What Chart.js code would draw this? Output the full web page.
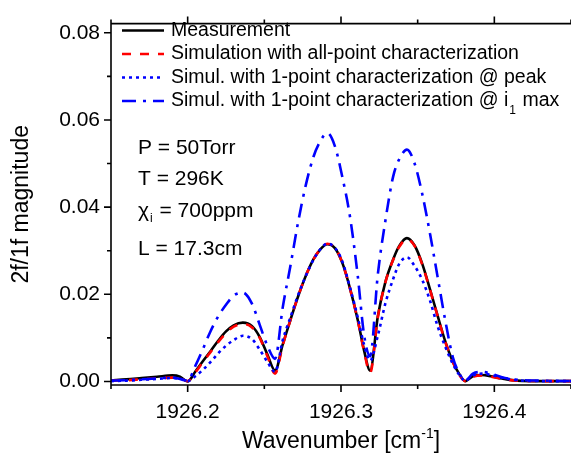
<!DOCTYPE html>
<html>
<head>
<meta charset="utf-8">
<script src="https://cdn.jsdelivr.net/npm/chart.js@4"></script>
<style>
  html, body { margin: 0; padding: 0; background: #fff; }
</style>
</head>
<body>
<canvas id="chart" width="571" height="457"></canvas>
<script>
// wavenumber grid [cm-1]
const wavenumber = [1926.150, 1926.160, 1926.170, 1926.180, 1926.190, 1926.195, 1926.200, 1926.205, 1926.210, 1926.215,
  1926.220, 1926.225, 1926.230, 1926.236, 1926.242, 1926.247, 1926.252, 1926.257, 1926.262, 1926.267,
  1926.272, 1926.277, 1926.282, 1926.286, 1926.291, 1926.296, 1926.301, 1926.306, 1926.311, 1926.315,
  1926.319, 1926.324, 1926.329, 1926.334, 1926.338, 1926.343, 1926.348, 1926.353, 1926.358, 1926.363,
  1926.368, 1926.373, 1926.377, 1926.381, 1926.386, 1926.392, 1926.398, 1926.405, 1926.415, 1926.430, 1926.450];

// 2f/1f magnitude
const measurement = [0.0003, 0.0005, 0.0008, 0.0011, 0.0014, 0.0011, 0.0000, 0.0023, 0.0047, 0.0070,
  0.0094, 0.0115, 0.0129, 0.0135, 0.0127, 0.0102, 0.0062, 0.0025, 0.0085, 0.0141,
  0.0195, 0.0242, 0.0280, 0.0301, 0.0315, 0.0306, 0.0271, 0.0212, 0.0140, 0.0072,
  0.0025, 0.0149, 0.0229, 0.0280, 0.0311, 0.0329, 0.0312, 0.0270, 0.0212, 0.0151,
  0.0092, 0.0045, 0.0018, 0.0001, 0.0012, 0.0015, 0.0012, 0.0007, 0.0002, 0.0001, 0.0001];

const simAllPoint = [0.0002, 0.0003, 0.0005, 0.0007, 0.0009, 0.0007, 0.0001, 0.0021, 0.0045, 0.0068,
  0.0091, 0.0111, 0.0126, 0.0132, 0.0124, 0.0100, 0.0058, 0.0018, 0.0083, 0.0141,
  0.0195, 0.0242, 0.0280, 0.0301, 0.0316, 0.0307, 0.0271, 0.0211, 0.0139, 0.0070,
  0.0020, 0.0147, 0.0228, 0.0279, 0.0309, 0.0327, 0.0311, 0.0268, 0.0211, 0.0150,
  0.0091, 0.0044, 0.0016, 0.0001, 0.0011, 0.0014, 0.0011, 0.0006, 0.0002, 0.0001, 0.0001];

const simPeak = [0.0001, 0.0002, 0.0004, 0.0006, 0.0008, 0.0006, 0.0001, 0.0012, 0.0027, 0.0045,
  0.0065, 0.0082, 0.0095, 0.0105, 0.0097, 0.0073, 0.0045, 0.0022, 0.0095, 0.0147,
  0.0198, 0.0242, 0.0279, 0.0301, 0.0316, 0.0307, 0.0274, 0.0214, 0.0146, 0.0085,
  0.0048, 0.0105, 0.0180, 0.0235, 0.0270, 0.0285, 0.0265, 0.0233, 0.0186, 0.0127,
  0.0080, 0.0040, 0.0016, 0.0002, 0.0014, 0.0018, 0.0015, 0.0009, 0.0003, 0.0001, 0.0001];

const simI1Max = [0.0002, 0.0003, 0.0005, 0.0007, 0.0009, 0.0006, 0.0002, 0.0036, 0.0075, 0.0116,
  0.0150, 0.0176, 0.0197, 0.0204, 0.0178, 0.0130, 0.0082, 0.0052, 0.0170, 0.0265,
  0.0365, 0.0450, 0.0515, 0.0548, 0.0570, 0.0540, 0.0467, 0.0375, 0.0240, 0.0108,
  0.0058, 0.0245, 0.0370, 0.0470, 0.0510, 0.0532, 0.0500, 0.0430, 0.0340, 0.0240,
  0.0140, 0.0055, 0.0020, 0.0002, 0.0018, 0.0022, 0.0018, 0.0010, 0.0004, 0.0002, 0.0001];

const seriesLabels = ['Measurement', 'Simulation with all-point characterization',
  'Simul. with 1-point characterization @ peak', 'Simul. with 1-point characterization @ i'];

const xMajorTicks = [1926.2, 1926.3, 1926.4];
const xMinorTicks = [1926.15, 1926.25, 1926.35, 1926.45];
const yMajorTicks = [0, 0.02, 0.04, 0.06, 0.08];
const yMinorTicks = [0.01, 0.03, 0.05, 0.07];

const conditions = ['P = 50Torr', 'T = 296K', ' = 700ppm', 'L = 17.3cm'];

const FONT = '"Liberation Sans", Arial, sans-serif';
const toPoints = ys => ys.map((y, i) => ({ x: wavenumber[i], y: y }));

const lineBase = { pointRadius: 0, fill: false, borderWidth: 2.6, cubicInterpolationMode: 'monotone', borderCapStyle: 'butt' };

// frame, minor ticks, legend, annotations and axis titles
const decorPlugin = {
  id: 'decor',
  afterDraw(chart) {
    const ctx = chart.ctx;
    const { left, right, top, bottom } = chart.chartArea;
    const xs = chart.scales.x, ys = chart.scales.y;
    ctx.save();
    ctx.strokeStyle = '#000';
    ctx.lineWidth = 1.6;
    ctx.setLineDash([]);
    ctx.beginPath();
    ctx.moveTo(left, bottom); ctx.lineTo(left, top); ctx.lineTo(right, top);
    ctx.moveTo(left, bottom); ctx.lineTo(right, bottom);
    yMajorTicks.forEach(v => { const p = ys.getPixelForValue(v); ctx.moveTo(left - 7, p); ctx.lineTo(left, p); });
    yMinorTicks.forEach(v => { const p = ys.getPixelForValue(v); ctx.moveTo(left - 4, p); ctx.lineTo(left, p); });
    xMajorTicks.forEach(v => {
      const p = xs.getPixelForValue(v);
      ctx.moveTo(p, bottom); ctx.lineTo(p, bottom + 7);
      ctx.moveTo(p, top); ctx.lineTo(p, top - 7);
    });
    xMinorTicks.forEach(v => {
      const p = xs.getPixelForValue(v);
      ctx.moveTo(p, bottom); ctx.lineTo(p, bottom + 4);
      ctx.moveTo(p, top); ctx.lineTo(p, top - 4);
    });
    ctx.stroke();

    // legend
    ctx.fillStyle = '#000';
    ctx.textBaseline = 'middle';
    chart.data.datasets.forEach((ds, i) => {
      const y = 30.5 + i * 23.5;
      ctx.strokeStyle = ds.borderColor;
      ctx.lineWidth = ds.borderWidth;
      ctx.setLineDash(ds.borderDash || []);
      ctx.beginPath(); ctx.moveTo(122, y); ctx.lineTo(164, y); ctx.stroke();
      ctx.font = '19.5px ' + FONT;
      ctx.textAlign = 'left';
      ctx.fillText(seriesLabels[i], 171, y);
      if (i === 3) {
        let x = 171 + ctx.measureText(seriesLabels[i]).width + 1;
        ctx.font = '12px ' + FONT;
        ctx.fillText('1', x, y + 10);
        x += ctx.measureText('1').width + 1;
        ctx.font = '19.5px ' + FONT;
        ctx.fillText(' max', x, y);
      }
    });
    ctx.setLineDash([]);

    // measurement conditions
    ctx.textBaseline = 'alphabetic';
    ctx.font = '21px ' + FONT;
    ctx.fillText(conditions[0], 138, 154);
    ctx.fillText(conditions[1], 138, 185);
    ctx.fillText('\u03c7', 138, 217);
    let cx = 138 + ctx.measureText('\u03c7').width;
    ctx.font = '12px ' + FONT;
    ctx.fillText('i', cx + 1, 222);
    cx += ctx.measureText('i').width + 2;
    ctx.font = '21px ' + FONT;
    ctx.fillText(conditions[2], cx, 217);
    ctx.fillText(conditions[3], 138, 255);

    // x title with superscript
    const big = '23px ' + FONT, small = '14px ' + FONT;
    ctx.font = big; const w1 = ctx.measureText('Wavenumber [cm').width;
    const w3 = ctx.measureText(']').width;
    ctx.font = small; const w2 = ctx.measureText('-1').width;
    let tx = (left + right) / 2 - (w1 + w2 + w3) / 2;
    const tb = 448;
    ctx.font = big; ctx.fillText('Wavenumber [cm', tx, tb); tx += w1;
    ctx.font = small; ctx.fillText('-1', tx, tb - 10); tx += w2;
    ctx.font = big; ctx.fillText(']', tx, tb);

    // y title
    ctx.translate(22, (top + bottom) / 2);
    ctx.rotate(-Math.PI / 2);
    ctx.textAlign = 'center';
    ctx.textBaseline = 'middle';
    ctx.font = '23px ' + FONT;
    ctx.fillText('2f/1f magnitude', 0, 0);
    ctx.restore();
  }
};

new Chart(document.getElementById('chart').getContext('2d'), {
  type: 'line',
  data: {
    datasets: [
      Object.assign({}, lineBase, { label: seriesLabels[0], data: toPoints(measurement), borderColor: '#000000', order: 4 }),
      Object.assign({}, lineBase, { label: seriesLabels[1], data: toPoints(simAllPoint), borderColor: '#ff0000', borderDash: [9, 9], order: 3 }),
      Object.assign({}, lineBase, { label: seriesLabels[2], data: toPoints(simPeak), borderColor: '#0000ff', borderDash: [3, 4], order: 2 }),
      Object.assign({}, lineBase, { label: seriesLabels[3], data: toPoints(simI1Max), borderColor: '#0000ff', borderDash: [14, 7, 3, 7], order: 1 })
    ]
  },
  options: {
    responsive: false,
    animation: false,
    devicePixelRatio: 1,
    events: [],
    layout: { padding: { top: 14, right: 0, left: 0, bottom: 0 } },
    plugins: { legend: { display: false }, tooltip: { enabled: false } },
    scales: {
      x: {
        type: 'linear', min: 1926.15, max: 1926.45,
        afterBuildTicks: s => { s.ticks = xMajorTicks.map(v => ({ value: v })); },
        afterFit: s => { s.height = 72; },
        grid: { display: false, drawTicks: false },
        border: { display: false },
        ticks: { color: '#000', font: { family: FONT, size: 21 }, padding: 15, maxRotation: 0, autoSkip: false,
          callback: v => v.toFixed(1) }
      },
      y: {
        type: 'linear', min: -0.0008, max: 0.0821,
        afterBuildTicks: s => { s.ticks = yMajorTicks.map(v => ({ value: v })); },
        afterFit: s => { s.width = 111; },
        grid: { display: false, drawTicks: false },
        border: { display: false },
        ticks: { color: '#000', font: { family: FONT, size: 21 }, padding: 11, callback: v => v.toFixed(2) }
      }
    }
  },
  plugins: [decorPlugin]
});
</script>
</body>
</html>
